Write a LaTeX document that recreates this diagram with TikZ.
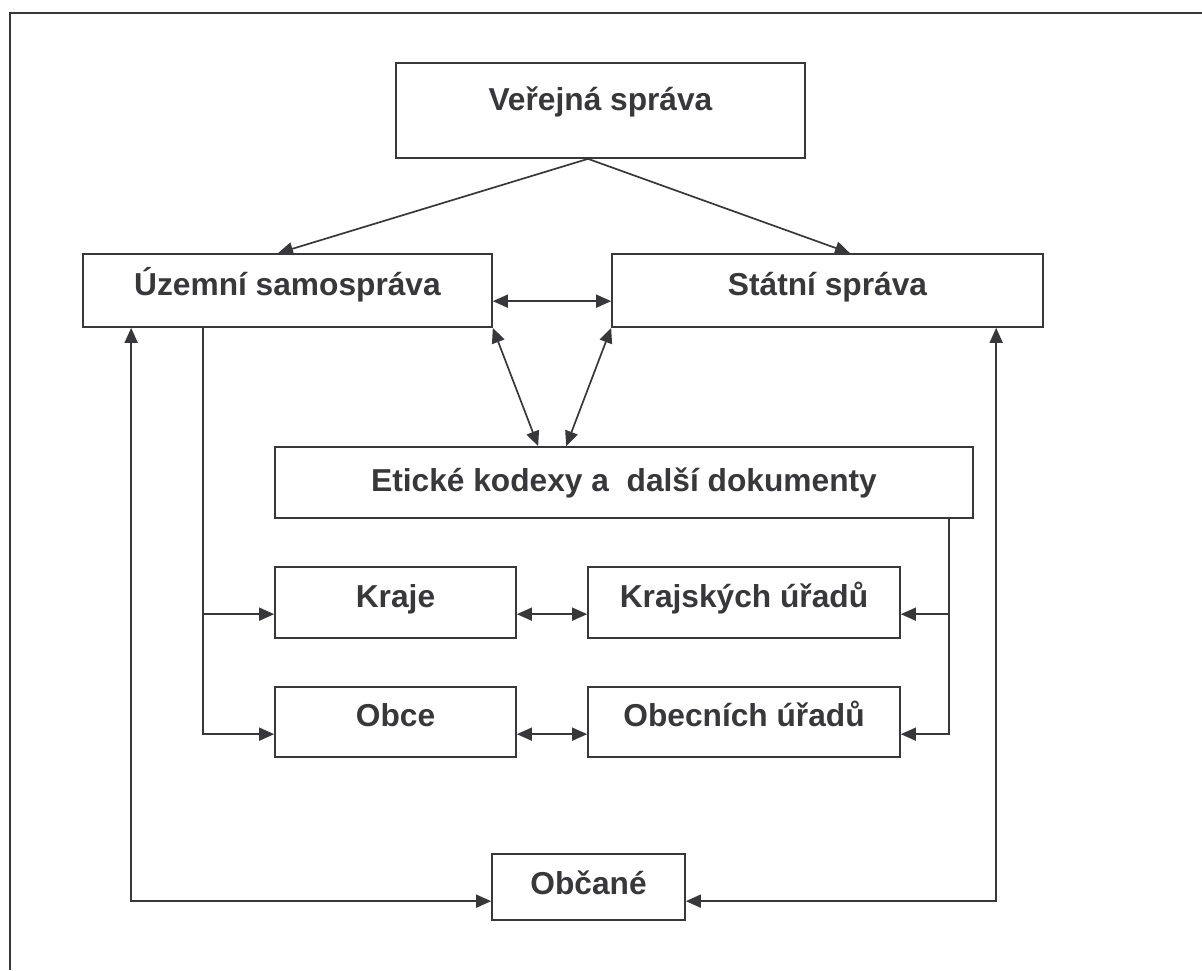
\documentclass[tikz,border=0pt]{standalone}
\usepackage{fontspec}
\setmainfont{Liberation Sans}
\usetikzlibrary{arrows.meta,calc}
\definecolor{ink}{HTML}{38383A}
\begin{document}
\begin{tikzpicture}[x=1pt,y=-1pt,
  box/.style={draw=ink, line width=1.7pt, fill=white, inner sep=0pt, text=ink,
    font=\fontsize{31.7}{36}\selectfont\bfseries, text height=9.6pt, text depth=0pt},
  conn/.style={draw=ink, line width=1.7pt},
  tip/.style={conn, -{Triangle[length=15pt,width=13pt]}},
  both/.style={conn, {Triangle[length=15pt,width=13pt]}-{Triangle[length=15pt,width=13pt]}},
  frame/.style={draw=ink, line width=2.4pt}]
\useasboundingbox (0,0) rectangle (1202,970);
% outer frame (top and left edges)
\draw[frame] (10,970) -- (10,13) -- (1202,13);

% boxes
\node[box, minimum width=409pt, minimum height=95pt, text height=0pt, text depth=1pt] (ver) at (600.5,110.5) {Veřejná správa};
\node[box, minimum width=409pt, minimum height=73pt] (uz) at (287.5,290.5) {Územní samospráva};
\node[box, minimum width=431pt, minimum height=73pt] (st) at (827.5,290.5) {Státní správa};
\node[box, minimum width=698pt, minimum height=71pt, text height=18pt] (et) at (624,482.5) {Etické kodexy a\ \ další dokumenty};
\node[box, minimum width=241pt, minimum height=71pt] (kr) at (395.5,602.5) {Kraje};
\node[box, minimum width=312pt, minimum height=71pt] (ku) at (744,602.5) {Krajských úřadů};
\node[box, minimum width=241pt, minimum height=70pt] (ob) at (395.5,722) {Obce};
\node[box, minimum width=312pt, minimum height=70pt] (ou) at (744,722) {Obecních úřadů};
\node[box, minimum width=193pt, minimum height=66pt, text height=14pt] (oc) at (588.5,887) {Občané};

% top split
\coordinate (apex) at ($(ver.south)+(-12.5,0)$);
\draw[tip] (apex) -- ($(uz.north)+(-9.5,0)$);
\draw[tip] (apex) -- ($(st.north)+(22.5,0)$);

% links between the two branches and the codes
\draw[both] ($(uz.north east)+(0,48)$) -- ($(st.north west)+(0,48)$);
\draw[both] (uz.south east) -- ($(et.north west)+(264,0)$);
\draw[both] (st.south west) -- ($(et.north west)+(292,0)$);

% self-government branch
\coordinate (lsplit) at ($(uz.south west)+(121,0)$);
\coordinate (krin) at ($(kr.north west)+(0,48)$);
\coordinate (obin) at ($(ob.north west)+(0,48)$);
\draw[tip] (lsplit) |- (obin);
\draw[tip] (lsplit |- krin) -- (krin);

% state administration branch
\coordinate (rsplit) at ($(et.south east)+(-25,0)$);
\coordinate (kuin) at ($(ku.north east)+(0,48)$);
\coordinate (ouin) at ($(ou.north east)+(0,48)$);
\draw[tip] (rsplit) |- (ouin);
\draw[tip] (rsplit |- kuin) -- (kuin);

% horizontal pairs
\draw[both] ($(kr.north east)+(0,48)$) -- ($(ku.north west)+(0,48)$);
\draw[both] ($(ob.north east)+(0,48)$) -- ($(ou.north west)+(0,48)$);

% citizens
\draw[both] ($(uz.south west)+(49,0)$) |- ($(oc.north west)+(0,48)$);
\draw[both] ($(st.south west)+(385,0)$) |- ($(oc.north east)+(0,48)$);
\end{tikzpicture}
\end{document}
